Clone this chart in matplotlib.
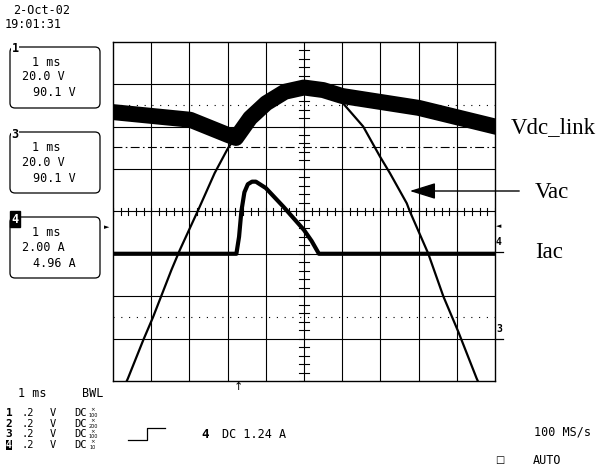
import matplotlib.pyplot as plt
from matplotlib.patches import FancyBboxPatch

# time in divisions (1 ms/div, 0 = screen centre), level in divisions
vdc_t = [-5.0, -2.98, -1.99, -1.78, -1.41, -0.99, -0.5, 0.0, 0.5, 1.0, 2.0, 3.0, 4.0, 5.0]
vdc_v = [2.34, 2.16, 1.80, 1.73, 2.20, 2.55, 2.82, 2.92, 2.86, 2.72, 2.58, 2.44, 2.22, 2.00]

vac_t = [-4.64, -4.61, -4.21, -3.95, -3.47, -3.25, -2.77, -2.34, -1.99, -1.5, -1.0, -0.5, 0.0,
         0.5, 0.99, 1.55, 1.99, 2.25, 2.69, 2.77, 3.25, 3.65, 4.04, 4.52, 4.55]
vac_v = [-4.0, -3.94, -3.04, -2.49, -1.38, -0.91, 0.03, 0.90, 1.49, 2.12, 2.50, 2.75, 2.84,
         2.78, 2.58, 2.00, 1.29, 0.90, 0.19, 0.0, -0.99, -2.01, -2.84, -3.94, -4.0]

iac_t = [-5.0, -1.77, -1.70, -1.64, -1.56, -1.47, -1.36, -1.26, -1.0, -0.54, 0.0, 0.2, 0.39, 5.0]
iac_v = [-1.0, -1.0, -0.6, 0.0, 0.45, 0.64, 0.70, 0.70, 0.55, 0.11, -0.44, -0.70, -1.0, -1.0]

boxes = [('1', ['1 ms', '20.0 V', '90.1 V']),
         ('3', ['1 ms', '20.0 V', '90.1 V']),
         ('4', ['1 ms', '2.00 A', '4.96 A'])]
probe = ['100', '200', '100', '10']

W, H = 605, 473
fig = plt.figure(figsize=(W / 100, H / 100), dpi=100)
ax = fig.add_axes([113 / W, (H - 381) / H, 382 / W, 339.3 / H])
ax.set_xlim(-5, 5)
ax.set_ylim(-4, 4)
ax.set_xticks([])
ax.set_yticks([])
for s in ax.spines.values():
    s.set_linewidth(1.0)

# graticule
for x in range(-4, 5):
    ax.axvline(x, color='black', lw=0.8)
for y in range(-3, 4):
    ax.axhline(y, color='black', lw=0.8)
for i in range(-25, 26):
    ax.plot([i * 0.2, i * 0.2], [-0.08, 0.08], color='black', lw=0.8)
for i in range(-20, 21):
    ax.plot([-0.12, 0.12], [i * 0.2, i * 0.2], color='black', lw=0.8)
ax.axhline(2.5, color='black', lw=0.8, ls=(0, (1, 6)))
ax.axhline(-2.5, color='black', lw=0.8, ls=(0, (1, 6)))
ax.axhline(1.52, color='black', lw=0.8, ls=(0, (8, 3, 1.5, 3)))

# traces
ax.plot(vdc_t, vdc_v, color='black', lw=11.5, solid_joinstyle='round')
ax.plot(vac_t, vac_v, color='black', lw=1.6)
ax.plot(iac_t, iac_v, color='black', lw=3)

# overlay for screen texts (pixel coordinates)
ov = fig.add_axes([0, 0, 1, 1], zorder=5)
ov.set_xlim(0, W)
ov.set_ylim(H, 0)
ov.axis('off')
mono = dict(family='DejaVu Sans Mono', fontsize=8.5, va='center', ha='left')
small = dict(family='DejaVu Sans Mono', fontsize=7.5, va='center', ha='left')

ov.text(13, 11, '2-Oct-02', **mono)
ov.text(5, 25, '19:01:31', **mono)

for k, (lab, lines) in enumerate(boxes):
    top = 47 + 85 * k
    ov.add_patch(FancyBboxPatch((10, top), 90, 61, boxstyle='round,pad=0,rounding_size=5',
                                fill=False, ec='black', lw=0.9))
    if lab == '4':
        ov.text(15, top + 2, lab, family='DejaVu Sans Mono', fontsize=8.5, weight='bold',
                color='white', va='center', ha='center',
                bbox=dict(boxstyle='square,pad=0.1', fc='black', ec='black'))
    else:
        ov.text(15, top + 2, lab, family='DejaVu Sans Mono', fontsize=8.5, weight='bold',
                va='center', ha='center',
                bbox=dict(boxstyle='square,pad=0.05', fc='white', ec='none'))
    ov.text(32, top + 15, lines[0], **mono)
    ov.text(22, top + 30, lines[1], **mono)
    ov.text(33, top + 46, lines[2], **mono)

# trigger / channel markers
ov.text(107, 227, '\u25ba', fontsize=5, ha='center', va='center')
ov.text(499, 226, '\u25c4', fontsize=5, ha='center', va='center')
ov.text(499, 242, '4', family='DejaVu Sans Mono', fontsize=7, weight='bold', ha='center', va='center')
ov.plot([495, 503], [252, 252], color='black', lw=0.9)
ov.text(499, 329, '3', family='DejaVu Sans Mono', fontsize=7, weight='bold', ha='center', va='center')
ov.plot([495, 503], [339, 339], color='black', lw=0.9)
ov.text(238, 387, '\u2191', fontsize=8, ha='center', va='center')

# bottom status area
ov.text(18, 393, '1 ms', **mono)
ov.text(82, 393, 'BWL', **mono)
for i, p in enumerate(probe):
    y = 413 + 10.7 * i
    ch = str(i + 1)
    if i == 3:
        ov.text(9, y, ch, family='DejaVu Sans Mono', fontsize=7, weight='bold', color='white',
                ha='center', va='center', bbox=dict(boxstyle='square,pad=0.02', fc='black', ec='none'))
    else:
        ov.text(9, y, ch, family='DejaVu Sans Mono', fontsize=8, weight='bold', ha='center', va='center')
    ov.text(22, y, '.2', **small)
    ov.text(50, y, 'V', **small)
    ov.text(74, y, 'DC', **small)
    ov.text(93, y - 3, '\u00d7', family='DejaVu Sans', fontsize=4, ha='center', va='center')
    ov.text(93, y + 2.5, p, family='DejaVu Sans', fontsize=3.5, ha='center', va='center')

ov.plot([128, 147, 147, 165], [440, 440, 428, 428], color='black', lw=0.9)
ov.text(205, 434, '4', family='DejaVu Sans Mono', fontsize=9, weight='bold', ha='center', va='center')
ov.text(222, 434, 'DC 1.24 A', **mono)
ov.text(534, 432, '100 MS/s', **mono)
ov.text(500, 460, '\u25a1', family='DejaVu Sans', fontsize=7, ha='center', va='center')
ov.text(533, 460, 'AUTO', **mono)

# annotations
serif = dict(family='Liberation Serif', fontsize=16.5, va='center', ha='left')
ov.text(511, 128, 'Vdc_link', **serif)
ov.text(535, 192, 'Vac', **serif)
ov.text(535, 252, 'Iac', **serif)
ov.annotate('', xy=(407, 191), xytext=(522, 191),
            arrowprops=dict(arrowstyle='-|>,head_length=1.6,head_width=0.5', color='black', lw=1))

fig.savefig('out.png', dpi=100)
